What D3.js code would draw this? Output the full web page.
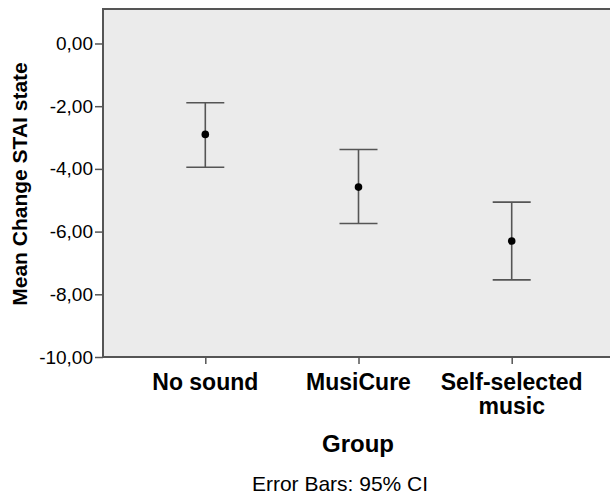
<!DOCTYPE html>
<html lang="en">
<head>
<meta charset="UTF-8">
<title>Mean Change STAI state</title>
<script src="https://cdn.jsdelivr.net/npm/d3@7"></script>
<style>
    body { margin: 0; background: #fff; }
    text { font-family: "Liberation Sans", Arial, sans-serif; fill: #000; }
    .axis path { display: none; }
    .axis line { stroke: #555; stroke-width: 1.5px; }
    .bar { stroke: #555; stroke-width: 1.6px; fill: none; }
</style>
</head>
<body>
<svg width="610" height="496"></svg>
<script>
    // values
    var groups = ["No sound", "MusiCure", "Self-selected music"];
    var groupLines = [["No sound"], ["MusiCure"], ["Self-selected", "music"]];
    var means = [-2.90, -4.58, -6.30];
    var lower = [-3.95, -5.74, -7.54];
    var upper = [-1.89, -3.38, -5.06];
    var yTicks = [0, -2, -4, -6, -8, -10];

    var svg = d3.select("svg"),
        plot = { left: 103, top: 9, right: 616, bottom: 357 };

    var y = d3.scaleLinear()
        .domain([-10, 1.1])
        .range([plot.bottom, plot.top]);
    var x = d3.scalePoint()
        .domain(groups)
        .range([205.3, 511.7]);

    // plot background + frame
    svg.append("rect")
        .attr("x", plot.left)
        .attr("y", plot.top)
        .attr("width", plot.right - plot.left)
        .attr("height", plot.bottom - plot.top)
        .attr("fill", "#ebebeb")
        .attr("stroke", "#555")
        .attr("stroke-width", 2);

    // comma decimals, plain hyphen for minus
    var fmt = function (d) { return d.toFixed(2).replace(".", ","); };

    var yAxis = svg.append("g")
        .attr("class", "axis")
        .attr("transform", "translate(" + plot.left + ",0)")
        .call(d3.axisLeft(y).tickValues(yTicks).tickSize(8).tickPadding(2).tickFormat(fmt));
    yAxis.selectAll("text").style("font-size", "19px").attr("fill", "#000");

    svg.append("g")
        .attr("class", "axis")
        .attr("transform", "translate(0," + plot.bottom + ")")
        .call(d3.axisBottom(x).tickSize(7).tickFormat(""));

    // category labels (multi-line)
    var cat = svg.append("g");
    groups.forEach(function (g, i) {
        var t = cat.append("text")
            .attr("x", x(g))
            .attr("y", 390)
            .attr("text-anchor", "middle")
            .style("font-size", "23px")
            .style("font-weight", "bold");
        groupLines[i].forEach(function (line, j) {
            t.append("tspan")
                .attr("x", x(g))
                .attr("dy", j === 0 ? 0 : 24)
                .text(line);
        });
    });

    // error bars
    var bars = svg.append("g");
    var capW = 19;
    groups.forEach(function (g, i) {
        var cx = x(g);
        bars.append("line").attr("class", "bar")
            .attr("x1", cx).attr("x2", cx)
            .attr("y1", y(upper[i])).attr("y2", y(lower[i]));
        bars.append("line").attr("class", "bar")
            .attr("x1", cx - capW).attr("x2", cx + capW)
            .attr("y1", y(upper[i])).attr("y2", y(upper[i]));
        bars.append("line").attr("class", "bar")
            .attr("x1", cx - capW).attr("x2", cx + capW)
            .attr("y1", y(lower[i])).attr("y2", y(lower[i]));
    });
    bars.selectAll("circle")
        .data(means)
        .enter()
        .append("circle")
        .attr("cx", function (d, i) { return x(groups[i]); })
        .attr("cy", function (d) { return y(d); })
        .attr("r", 3.8)
        .attr("fill", "#000");

    // titles
    svg.append("text")
        .attr("transform", "translate(27,184) rotate(-90)")
        .attr("text-anchor", "middle")
        .style("font-size", "21px")
        .style("font-weight", "bold")
        .text("Mean Change STAI state");

    svg.append("text")
        .attr("x", 358)
        .attr("y", 452)
        .attr("text-anchor", "middle")
        .style("font-size", "24px")
        .style("font-weight", "bold")
        .text("Group");

    svg.append("text")
        .attr("x", 340)
        .attr("y", 491)
        .attr("text-anchor", "middle")
        .style("font-size", "21px")
        .text("Error Bars: 95% CI");
</script>
</body>
</html>
